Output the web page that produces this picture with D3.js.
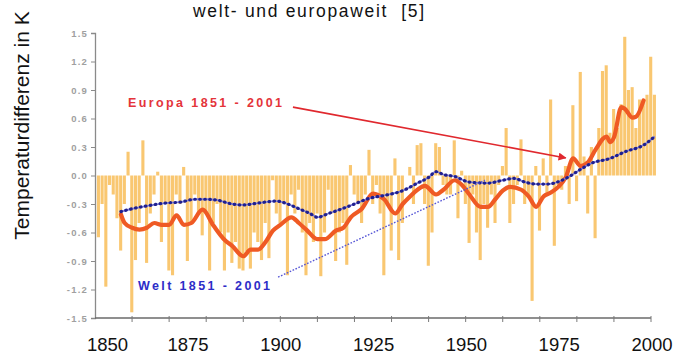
<!DOCTYPE html>
<html>
<head>
<meta charset="utf-8">
<script src="https://cdn.jsdelivr.net/npm/d3@7"></script>
<style>
  body { margin: 0; background: #fff; }
  svg { display: block; }
</style>
</head>
<body>
<div id="chart"></div>
<script>
// Jahreswerte Europa 1851 - 2001 (Balken)
var barYears = d3.range(1851, 2002);
var barValues = [
  -0.65, -0.3, -1.17, -0.1, -0.2, -0.45, -0.79, -0.3, 0.25, -1.44,
  -0.89, -0.5, 0.37, -0.92, -0.4, -0.2, 0.04, -0.7, -0.3, -1.0,
  -1.05, -0.2, -0.3, 0.09, -0.9, -0.5, -0.2, -0.4, -0.63, -0.4,
  -1.0, -0.5, -0.3, -0.6, -1.0, -0.6, -0.92, -0.7, -0.98, -1.0,
  -0.8, -0.98, -0.6, -0.7, -0.89, -0.5, -0.87, -0.05, -0.4, -0.5,
  -0.3, -1.05, -0.2, -0.4, -0.15, -0.6, -1.05, -0.5, -0.7, -0.4,
  -1.06, -0.6, -0.15, -0.4, -0.9, -0.6, -0.5, -0.94, 0.11, -0.2,
  -0.3, -0.5, -0.2, 0.27, -0.3, -0.1, -0.4, -1.05, -0.3, -0.79,
  0.18, -0.89, -0.5, 0.0, 0.09, -0.3, 0.32, 0.34, -0.3, -0.95,
  -0.6, 0.34, 0.3, -0.1, -0.2, -0.2, 0.37, -0.45, 0.05, -0.3,
  -0.71, -0.2, -0.6, -0.89, -0.3, -0.55, -0.2, -0.5, -0.1, 0.1,
  0.5, -0.5, -0.3, -0.1, 0.38, -0.3, -0.2, -1.32, 0.1, -0.58,
  0.18, -0.2, 0.8, -0.74, -0.1, -0.15, 0.1, -0.3, 0.74, -0.27,
  1.09, 0.2, -0.4, 0.3, -0.66, 0.5, 1.1, 1.16, 0.45, 0.7,
  0.5, 0.75, 1.46, 0.9, 0.93, 0.5, 0.8, 0.8, 0.85, 1.25,
  0.85
];

// geglaettete Kurve Europa
var euroYears = [1857, 1858, 1860, 1862, 1864, 1866, 1868, 1870, 1872, 1874, 1876, 1879,
  1882, 1885, 1887, 1890, 1892, 1894, 1896, 1898, 1900, 1903, 1905, 1907, 1910, 1912,
  1915, 1917, 1919, 1922, 1925, 1928, 1931, 1933, 1935, 1937, 1939, 1942, 1944, 1947,
  1949, 1951, 1954, 1956, 1958, 1960, 1962, 1965, 1967, 1969, 1971, 1973, 1975, 1977,
  1979, 1981, 1983, 1985, 1988, 1989, 1990, 1992, 1993, 1995, 1996, 1998];
var euroValues = [-0.41, -0.5, -0.55, -0.57, -0.55, -0.5, -0.52, -0.52, -0.42, -0.52, -0.5, -0.36,
  -0.53, -0.68, -0.74, -0.85, -0.78, -0.78, -0.7, -0.58, -0.52, -0.44, -0.5, -0.57, -0.67, -0.67,
  -0.58, -0.55, -0.44, -0.35, -0.19, -0.25, -0.4, -0.3, -0.22, -0.15, -0.11, -0.2, -0.15, -0.05,
  -0.1, -0.2, -0.33, -0.33, -0.25, -0.16, -0.12, -0.15, -0.22, -0.33, -0.22, -0.18, -0.12, -0.02,
  0.18, 0.1, 0.14, 0.27, 0.41, 0.35, 0.4, 0.72, 0.7, 0.61, 0.62, 0.79];

// geglaettete Kurve Welt
var weltYears = [1857, 1860, 1864, 1869, 1873, 1877, 1880, 1883, 1887, 1890, 1894, 1899,
  1902, 1905, 1908, 1910, 1913, 1916, 1920, 1924, 1928, 1933, 1937, 1940, 1942, 1944,
  1947, 1951, 1956, 1960, 1963, 1966, 1969, 1972, 1976, 1978, 1980, 1984, 1989, 1993,
  1998, 2001];
var weltValues = [-0.38, -0.35, -0.32, -0.29, -0.28, -0.25, -0.25, -0.26, -0.3, -0.31, -0.29, -0.27,
  -0.3, -0.35, -0.4, -0.44, -0.4, -0.36, -0.3, -0.24, -0.21, -0.16, -0.08, -0.02, 0.04, 0.01,
  -0.01, -0.07, -0.08, -0.05, -0.03, -0.07, -0.09, -0.09, -0.05, -0.01, 0.04, 0.13, 0.18, 0.25,
  0.32, 0.41];

var yTicks = [1.5, 1.2, 0.9, 0.6, 0.3, 0.0, -0.3, -0.6, -0.9, -1.2, -1.5];
var xTickYears = [1860, 1870, 1880, 1890, 1900, 1910, 1920, 1930, 1940, 1950, 1960, 1970, 1980, 1990, 2000];
var xLabels = [1850, 1875, 1900, 1925, 1950, 1975, 2000];

var svgWidth = 688;
var svgHeight = 356;

var svg = d3.select("#chart").append("svg")
  .attr("width", svgWidth)
  .attr("height", svgHeight);

// Skalen des eingesetzten Diagramms
var x = d3.scaleLinear().domain([1850, 2000]).range([95, 651]);
var y = d3.scaleLinear().domain([-1.5, 1.5]).range([318, 33]);
// aeussere Jahresbeschriftung (nachtraeglich gesetzt, leicht verschoben)
var xOuter = d3.scaleLinear().domain([1850, 1875, 2000]).range([107.5, 188, 652]);

var barW = x(1851) - x(1850);

// Balken
svg.append("g").selectAll("rect")
  .data(barValues)
  .enter()
  .append("rect")
    .attr("x", (d, i) => x(barYears[i]) - barW / 2)
    .attr("y", d => y(Math.max(0, d)))
    .attr("width", barW - 0.6)
    .attr("height", d => Math.abs(y(d) - y(0)))
    .attr("fill", "#f8c265")
    .attr("opacity", 0.92);

// Achsen
var yAxis = d3.axisLeft(y)
  .tickValues(yTicks)
  .tickSize(4)
  .tickFormat(d => d.toFixed(1));
var gy = svg.append("g")
  .attr("transform", `translate(${x(1850)},0)`)
  .call(yAxis);
gy.select(".domain").attr("stroke", "#8a8a8a").attr("stroke-width", 1.3);
gy.selectAll(".tick line").attr("stroke", "#8a8a8a");
gy.selectAll(".tick text")
  .attr("fill", "#a0a0a0")
  .attr("font-family", "Liberation Sans, Arial, sans-serif")
  .attr("font-weight", "bold")
  .attr("font-size", 9.5)
  .attr("letter-spacing", 1.2)
  .attr("x", -7);

svg.append("line")
  .attr("x1", x(1850)).attr("x2", x(2000))
  .attr("y1", y(-1.5)).attr("y2", y(-1.5))
  .attr("stroke", "#6a6a6a")
  .attr("stroke-width", 1.3);
svg.append("g").selectAll("line")
  .data(xTickYears)
  .enter()
  .append("line")
    .attr("x1", d => x(d)).attr("x2", d => x(d))
    .attr("y1", y(-1.5) - 2).attr("y2", y(-1.5) + 4)
    .attr("stroke", "#7a7a7a");

// Kurve Europa
var euroLine = d3.line()
  .x((d, i) => x(euroYears[i]))
  .y(d => y(d))
  .curve(d3.curveMonotoneX);
svg.append("path")
  .datum(euroValues)
  .attr("d", euroLine)
  .attr("fill", "none")
  .attr("stroke", "#ef5a24")
  .attr("stroke-width", 4.2)
  .attr("stroke-linejoin", "round")
  .attr("stroke-linecap", "round");

// Kurve Welt (gepunktet)
var weltLine = d3.line()
  .x((d, i) => x(weltYears[i]))
  .y(d => y(d))
  .curve(d3.curveMonotoneX);
svg.append("path")
  .datum(weltValues)
  .attr("d", weltLine)
  .attr("fill", "none")
  .attr("stroke", "#8282dc")
  .attr("stroke-width", 1.8);
svg.append("path")
  .datum(weltValues)
  .attr("d", weltLine)
  .attr("fill", "none")
  .attr("stroke", "#20208f")
  .attr("stroke-width", 3.2)
  .attr("stroke-linecap", "round")
  .attr("stroke-dasharray", "0.5 4.5");

// Beschriftungen im Diagramm
var euroArrow = [[1903.4, 0.72], [1977.0, 0.185]];
var weltPointer = [[1899.4, -1.07], [1955.2, -0.05]];

svg.append("defs").append("marker")
  .attr("id", "arrowhead")
  .attr("viewBox", "0 0 10 10")
  .attr("refX", 9).attr("refY", 5)
  .attr("markerWidth", 5).attr("markerHeight", 5)
  .attr("orient", "auto")
  .append("path")
    .attr("d", "M0,0 L10,5 L0,10 z")
    .attr("fill", "#e0282e");

svg.append("line")
  .attr("x1", x(euroArrow[0][0])).attr("y1", y(euroArrow[0][1]))
  .attr("x2", x(euroArrow[1][0])).attr("y2", y(euroArrow[1][1]))
  .attr("stroke", "#e0282e")
  .attr("stroke-width", 1.6)
  .attr("marker-end", "url(#arrowhead)");

svg.append("line")
  .attr("x1", x(weltPointer[0][0])).attr("y1", y(weltPointer[0][1]))
  .attr("x2", x(weltPointer[1][0])).attr("y2", y(weltPointer[1][1]))
  .attr("stroke", "#5656d6")
  .attr("stroke-width", 1.4)
  .attr("stroke-dasharray", "1.6 1.6");

svg.append("text")
  .attr("x", x(1858.9)).attr("y", y(0.726))
  .attr("font-family", "Liberation Sans, Arial, sans-serif")
  .attr("font-weight", "bold")
  .attr("font-size", 12.5)
  .attr("fill", "#e4343a")
  .attr("textLength", 154)
  .text("Europa 1851 - 2001");

svg.append("text")
  .attr("x", x(1861.6)).attr("y", y(-1.2))
  .attr("font-family", "Liberation Sans, Arial, sans-serif")
  .attr("font-weight", "bold")
  .attr("font-size", 12.5)
  .attr("fill", "#2d2dc8")
  .attr("textLength", 132)
  .text("Welt 1851 - 2001");

// Titel und aeussere Beschriftung
svg.append("text")
  .attr("x", 193).attr("y", 17)
  .attr("font-family", "Liberation Sans, Arial, sans-serif")
  .attr("font-size", 17.5)
  .attr("fill", "#111")
  .attr("textLength", 231)
  .attr("xml:space", "preserve")
  .text("welt- und europaweit  [5]");

svg.append("text")
  .attr("transform", "translate(28.5,125.5) rotate(-90)")
  .attr("text-anchor", "middle")
  .attr("font-family", "Liberation Sans, Arial, sans-serif")
  .attr("font-size", 21)
  .attr("fill", "#111")
  .text("Temperaturdifferenz in K");

svg.append("g").selectAll("text")
  .data(xLabels)
  .enter()
  .append("text")
    .attr("x", d => xOuter(d))
    .attr("y", 351)
    .attr("text-anchor", "middle")
    .attr("font-family", "Liberation Sans Narrow, Arial Narrow, Liberation Sans, sans-serif")
    .attr("font-size", 18.5)
    .attr("fill", "#111")
    .text(d => d);
</script>
</body>
</html>
